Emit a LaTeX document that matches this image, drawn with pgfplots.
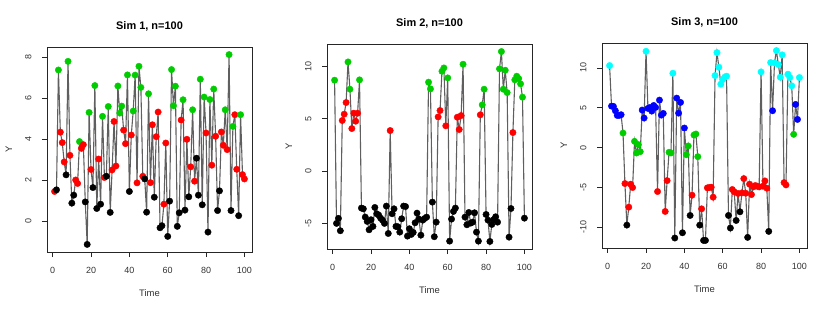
\documentclass[border=0pt]{standalone}
\usepackage{fontspec}
\setmainfont{Liberation Sans}
\usepackage{pgfplots}
\usepackage{pgfplotstable}
\pgfplotsset{compat=1.18}
\definecolor{rgreen}{RGB}{0,205,0}
\definecolor{rcyan}{RGB}{0,255,255}
\definecolor{rblue}{RGB}{0,0,255}
\definecolor{rred}{RGB}{255,0,0}
\definecolor{lgray}{RGB}{95,95,95}

\pgfplotstableread{
x y c
1 1.46 r
2 1.54 k
3 7.38 g
4 4.35 r
5 3.84 r
6 2.90 r
7 2.27 k
8 7.80 g
9 3.22 r
10 0.89 k
11 1.28 k
12 2.02 r
13 1.85 r
14 3.89 g
15 3.56 r
16 3.74 r
17 0.95 k
18 -1.12 k
19 5.31 g
20 2.53 r
21 1.65 k
22 6.62 g
23 0.63 k
24 3.04 r
25 0.84 k
26 5.12 g
27 2.14 r
28 2.20 k
29 5.60 g
30 0.44 k
31 2.51 r
32 4.87 r
33 2.70 r
34 6.60 g
35 5.28 g
36 5.62 g
37 4.45 r
38 3.79 r
39 7.14 g
40 1.46 k
41 4.21 r
42 5.38 g
43 7.13 g
44 1.88 r
45 7.56 g
46 6.53 g
47 2.20 r
48 2.07 k
49 0.45 k
50 6.22 g
51 1.89 r
52 4.71 r
53 1.18 k
54 4.13 r
55 5.33 r
56 -0.31 k
57 -0.21 k
58 0.84 r
59 3.82 r
60 -0.73 k
61 0.99 k
62 7.40 g
63 5.64 g
64 6.59 g
65 -0.24 k
66 0.42 k
67 4.94 r
68 5.93 g
69 0.55 k
70 4.00 r
71 1.20 k
72 2.66 r
73 5.44 g
74 1.96 r
75 3.08 k
76 1.28 k
77 6.93 g
78 0.81 k
79 6.06 g
80 4.31 r
81 -0.52 k
82 5.94 g
83 2.74 r
84 6.45 g
85 4.15 r
86 0.53 k
87 1.49 k
88 4.36 r
89 3.71 r
90 5.44 g
91 3.50 r
92 8.13 g
93 0.53 k
94 4.63 g
95 5.20 r
96 2.54 r
97 0.28 k
98 5.20 g
99 2.28 r
100 2.07 r
}\simA

\pgfplotstableread{
x y c
1 8.67 g
2 -4.98 k
3 -4.50 k
4 -5.68 k
5 4.83 r
6 5.43 r
7 6.54 r
8 10.41 g
9 7.81 g
10 4.06 r
11 5.52 r
12 4.76 r
13 5.52 r
14 8.70 g
15 -3.52 k
16 -3.59 k
17 -4.38 k
18 -4.79 k
19 -5.59 k
20 -4.63 k
21 -5.27 k
22 -3.46 k
23 -4.06 k
24 -4.19 k
25 -4.48 k
26 -4.67 k
27 -4.98 k
28 -3.33 k
29 -5.94 k
30 3.87 r
31 -4.06 k
32 -3.59 k
33 -5.27 k
34 -5.30 k
35 -5.81 k
36 -4.54 k
37 -3.33 k
38 -3.37 k
39 -6.19 k
40 -5.49 k
41 -6.03 k
42 -5.84 k
43 -4.92 k
44 -4.00 k
45 -4.57 k
46 -6.10 k
47 -4.67 k
48 -4.51 k
49 -4.38 k
50 8.48 g
51 7.84 g
52 -2.95 k
53 -6.25 k
54 -4.86 k
55 5.17 r
56 5.78 r
57 9.52 g
58 9.84 g
59 4.32 r
60 8.89 g
61 -6.67 k
62 -4.57 k
63 -3.84 k
64 -3.52 k
65 5.14 r
66 3.97 r
67 5.30 r
68 10.19 g
69 -4.38 k
70 -5.11 k
71 -3.94 k
72 -4.95 k
73 -4.86 k
74 -3.97 k
75 -5.81 k
76 -6.67 k
77 5.37 r
78 6.32 g
79 7.81 g
80 -4.13 k
81 -4.67 k
82 -6.70 k
83 -5.08 k
84 -4.63 k
85 -4.35 k
86 -4.86 k
87 9.75 g
88 11.40 g
89 7.81 g
90 9.62 g
91 7.49 g
92 -6.29 k
93 -3.56 k
94 3.68 r
95 8.70 g
96 9.05 g
97 8.83 g
98 8.32 g
99 7.05 g
100 -4.48 k
}\simB

\pgfplotstableread{
x y c
1 10.29 c
2 5.21 b
3 5.17 b
4 4.63 b
5 4.04 b
6 4.04 b
7 4.13 b
8 1.83 g
9 -4.50 r
10 -9.71 k
11 -7.46 r
12 -4.58 r
13 -5.00 r
14 0.79 g
15 -0.67 g
16 0.38 g
17 -0.50 g
18 4.71 b
19 3.71 b
20 12.08 c
21 4.92 b
22 5.04 b
23 4.58 b
24 5.29 b
25 5.04 b
26 -5.50 r
27 5.96 b
28 4.08 b
29 4.29 b
30 -8.00 r
31 -4.13 r
32 -0.58 g
33 -0.67 g
34 9.33 c
35 -11.33 k
36 6.21 b
37 4.33 b
38 5.67 b
39 -10.67 k
40 2.46 b
41 -0.88 g
42 0.21 g
43 -8.50 k
44 -5.96 r
45 1.58 g
46 1.71 g
47 -1.13 g
48 -9.71 k
49 -7.67 r
50 -11.63 k
51 -11.63 k
52 -5.04 r
53 -5.00 r
54 -4.96 r
55 -6.21 r
56 9.04 c
57 11.92 c
58 10.08 c
59 7.96 c
60 8.54 c
61 8.83 c
62 8.96 c
63 -8.50 k
64 -10.08 k
65 -5.25 r
66 -5.54 r
67 -9.13 k
68 -5.75 r
69 -8.04 k
70 -5.67 r
71 -3.88 r
72 -5.71 r
73 -11.25 k
74 -4.58 r
75 -5.88 r
76 -4.92 r
77 -4.75 r
78 -4.83 r
79 -4.92 r
80 9.50 c
81 -4.83 r
82 -4.17 r
83 -5.08 r
84 -10.50 k
85 10.67 c
86 4.63 b
87 10.63 c
88 12.17 c
89 10.42 c
90 8.83 c
91 11.63 c
92 -4.38 r
93 -4.67 r
94 9.21 c
95 8.79 c
96 7.75 c
97 1.67 g
98 5.42 b
99 3.54 b
100 8.79 c
}\simC

\pgfplotsset{
  rstyle/.style={
    scale only axis, width=205bp, height=205bp, anchor=south west,
    axis line style={black!85, line width=0.7bp},
    tick style={black!85, line width=0.7bp},
    tick align=outside, major tick length=5bp,
    xtick pos=left, ytick pos=left,
    xmin=-2.96, xmax=103.96, xtick={0,20,...,100},
    /pgf/number format/assume math mode=true,
    ticklabel style={font=\fontsize{9}{10}\selectfont, text=black!80},
    yticklabel style={rotate=90, anchor=south},
    xticklabel shift=7bp, yticklabel shift=7bp,
    xlabel=Time, ylabel=Y,
    label style={font=\fontsize{9.5}{11}\selectfont, text=black!80},
    xlabel style={at={(axis description cs:0.5,-0.2195)}, anchor=base},
    ylabel style={at={(axis description cs:-0.1707,0.5)}, anchor=base},
    title style={font=\bfseries\fontsize{11}{13}\selectfont, at={(axis description cs:0.5,1.058)}, anchor=base, yshift=0pt},
  },
  rline/.style={lgray, line width=1.1bp, no markers},
  rpts/.style={scatter, only marks, mark=*, mark size=3.2bp,
    point meta=explicit symbolic,
    scatter/classes={r={rred}, g={rgreen}, k={black}, b={rblue}, c={rcyan}}},
}

\begin{document}
\begin{tikzpicture}
\useasboundingbox (0,0) rectangle (830bp,312bp);
\begin{axis}[rstyle, at={(47bp,60bp)}, title={Sim 1, n=100},
  ymin=-1.49, ymax=8.50, ytick={0,2,4,6,8}]
\addplot[rline] table[x=x,y=y]{\simA};
\addplot[rpts] table[x=x,y=y,meta=c]{\simA};
\end{axis}
\begin{axis}[rstyle, at={(327bp,63bp)}, title={Sim 2, n=100},
  ymin=-7.42, ymax=12.12, ytick={-5,0,5,10}]
\addplot[rline] table[x=x,y=y]{\simB};
\addplot[rpts] table[x=x,y=y,meta=c]{\simB};
\end{axis}
\begin{axis}[rstyle, at={(602bp,64bp)}, title={Sim 3, n=100},
  ymin=-12.58, ymax=13.12, ytick={-10,-5,0,5,10}]
\addplot[rline] table[x=x,y=y]{\simC};
\addplot[rpts] table[x=x,y=y,meta=c]{\simC};
\end{axis}
\end{tikzpicture}
\end{document}
